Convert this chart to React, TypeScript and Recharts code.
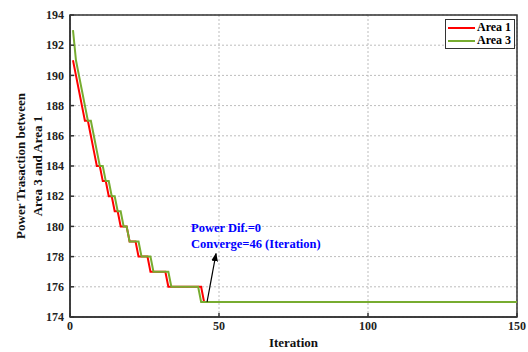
import { LineChart, Line, XAxis, YAxis, CartesianGrid, ReferenceLine, ReferenceArea } from 'recharts';

// Area 1 (red): one value per iteration until it settles, then the flat tail
const redIterations = [1, 2, 3, 4, 5, 6, 7, 8, 9, 10, 11, 12, 13, 14, 15, 16, 17, 18, 19, 20, 21, 22, 23, 24, 25, 26, 27, 28, 29, 30, 31, 32, 33, 34, 35, 36, 37, 38, 39, 40, 41, 42, 43, 44, 45, 150];
const redValues = [191, 190, 189, 188, 187, 187, 186, 185, 184, 184, 183, 183, 182, 182, 181, 181, 180, 180, 180, 179, 179, 179, 178, 178, 178, 178, 177, 177, 177, 177, 177, 177, 176, 176, 176, 176, 176, 176, 176, 176, 176, 176, 176, 176, 175, 175];

// Area 3 (green)
const greenIterations = [1, 2, 3, 4, 5, 6, 7, 8, 9, 10, 11, 12, 13, 14, 15, 16, 17, 18, 19, 20, 21, 22, 23, 24, 25, 26, 27, 28, 29, 30, 31, 32, 33, 34, 35, 36, 37, 38, 39, 40, 41, 42, 43, 44, 150];
const greenValues = [193, 191, 190, 189, 188, 187, 187, 186, 185, 184, 184, 183, 183, 182, 182, 181, 181, 180, 180, 179, 179, 179, 179, 178, 178, 178, 178, 177, 177, 177, 177, 177, 177, 176, 176, 176, 176, 176, 176, 176, 176, 176, 176, 175, 175];

const xTicks = [0, 50, 100, 150];
const yTicks = [174, 176, 178, 180, 182, 184, 186, 188, 190, 192, 194];

const seriesNames = ['Area 1', 'Area 3'];
const seriesColors = ['#ff0000', '#77ac30'];

const annotationLines = ['Power Dif.=0', 'Converge=46 (Iteration)'];
const arrowFrom = { x: 46, y: 175 };
const arrowTo = { x: 49, y: 178.2 };

const redData = redIterations.map((it, i) => ({ it, v: redValues[i] }));
const greenData = greenIterations.map((it, i) => ({ it, v: greenValues[i] }));

const FONT = '"Liberation Serif", "Times New Roman", serif';
const AXIS = '#333333';

const YLabel = ({ viewBox }: any) => {
  const cx = 29;
  const cy = viewBox.y + viewBox.height / 2;
  return (
    <text
      transform={`rotate(-90, ${cx}, ${cy})`}
      x={cx}
      y={cy}
      textAnchor="middle"
      fontFamily={FONT}
      fontWeight="bold"
      fontSize={13}
      fill="#111"
    >
      <tspan x={cx} dy={-4}>Power Trasaction between</tspan>
      <tspan x={cx} dy={17}>Area 3 and Area 1</tspan>
    </text>
  );
};

const LegendBox = () => (
  <div
    style={{
      position: 'absolute',
      left: 445,
      top: 19,
      border: '1px solid #333',
      background: '#fff',
      padding: '1px 3px 1px 2px',
      fontFamily: FONT,
      fontWeight: 'bold',
      fontSize: 12,
      lineHeight: '13px',
      color: '#000',
    }}
  >
    {seriesNames.map((name, i) => (
      <div key={name} style={{ display: 'flex', alignItems: 'center' }}>
        <span style={{ display: 'inline-block', width: 27, height: 2, background: seriesColors[i], marginRight: 2 }} />
        {name}
      </div>
    ))}
  </div>
);

const App = () => {
  const tick = { fontSize: 12, fill: '#222', fontFamily: FONT, fontWeight: 'bold' };
  return (
    <div style={{ position: 'absolute', left: 0, top: 0, width: 528, height: 352, background: '#fff' }}>
      <svg width={0} height={0} style={{ position: 'absolute' }}>
        <defs>
          <marker id="arrowHead" viewBox="0 0 10 10" refX="9" refY="5" markerWidth="7" markerHeight="7" orient="auto">
            <path d="M0,1 L10,5 L0,9 Z" fill="#000" />
          </marker>
        </defs>
      </svg>
      <LineChart width={528} height={352} margin={{ top: 15, right: 11, bottom: 0, left: 0 }}>
        <CartesianGrid stroke="#bdbdbd" strokeDasharray="2 2" />
        <XAxis
          type="number"
          dataKey="it"
          domain={[0, 150]}
          ticks={xTicks}
          height={35}
          tickSize={-4}
          tickMargin={8}
          tick={tick}
          stroke={AXIS}
          strokeWidth={1.5}
          label={{ value: 'Iteration', position: 'insideBottom', offset: 5, style: { fontFamily: FONT, fontWeight: 'bold', fontSize: 13, fill: '#111' } }}
        />
        <YAxis
          domain={[174, 194]}
          ticks={yTicks}
          width={70}
          tickSize={-4}
          tickMargin={10}
          tick={tick}
          stroke={AXIS}
          strokeWidth={1.5}
          label={{ content: <YLabel /> }}
        />
        <ReferenceArea x1={0} x2={150} y1={174} y2={194} fill="none" stroke={AXIS} strokeWidth={1.5} />
        <Line
          data={redData}
          dataKey="v"
          name={seriesNames[0]}
          stroke={seriesColors[0]}
          strokeWidth={2}
          dot={false}
          type="linear"
          isAnimationActive={false}
        />
        <Line
          data={greenData}
          dataKey="v"
          name={seriesNames[1]}
          stroke={seriesColors[1]}
          strokeWidth={2}
          dot={false}
          type="linear"
          isAnimationActive={false}
        />
        <ReferenceLine
          segment={[arrowFrom, arrowTo]}
          stroke="#000"
          strokeWidth={1.2}
          markerEnd="url(#arrowHead)"
          ifOverflow="visible"
        />
      </LineChart>
      <LegendBox />
      <div
        style={{
          position: 'absolute',
          left: 191,
          top: 220,
          fontFamily: FONT,
          fontWeight: 'bold',
          fontSize: 12.5,
          lineHeight: '16px',
          color: '#0000ff',
          whiteSpace: 'nowrap',
        }}
      >
        {annotationLines.map((t) => (
          <div key={t}>{t}</div>
        ))}
      </div>
    </div>
  );
};

export default App;
